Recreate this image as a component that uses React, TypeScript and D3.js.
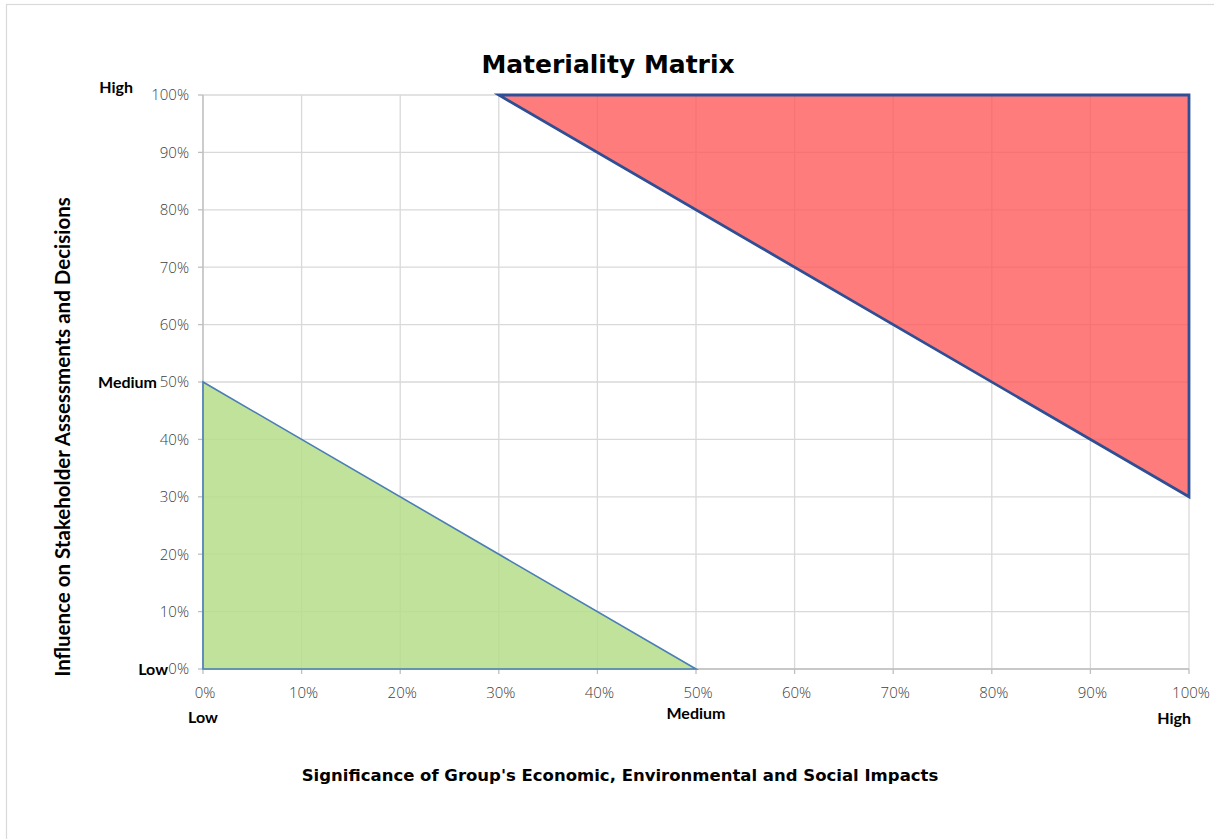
import React from "react";
import * as d3 from "d3";

const xTicks = [0, 0.1, 0.2, 0.3, 0.4, 0.5, 0.6, 0.7, 0.8, 0.9, 1.0];
const yTicks = [0, 0.1, 0.2, 0.3, 0.4, 0.5, 0.6, 0.7, 0.8, 0.9, 1.0];

// High-materiality zone (red) vertices [x, y]
const highZone: [number, number][] = [
  [0.3, 1.0],
  [1.0, 1.0],
  [1.0, 0.3],
];
// Low-materiality zone (green) vertices [x, y]
const lowZone: [number, number][] = [
  [0, 0],
  [0, 0.5],
  [0.5, 0],
];

const xLevelLabels = ["Low", "Medium", "High"];
const yLevelLabels = ["Low", "Medium", "High"];

const title = "Materiality Matrix";
const xTitle = "Significance of Group's Economic, Environmental and Social Impacts";
const yTitle = "Influence on Stakeholder Assessments and Decisions";

export default function App() {
  const W = 1214;
  const H = 839;
  const x = d3.scaleLinear().domain([0, 1]).range([203, 1189]);
  const y = d3.scaleLinear().domain([0, 1]).range([669, 95]);
  const fmt = d3.format(".0%");
  const line = d3
    .line<[number, number]>()
    .x((d) => x(d[0]))
    .y((d) => y(d[1]))
    .curve(d3.curveLinearClosed);

  const tickFont = "'Open Sans', Lato, sans-serif";
  const boldFont = "Lato, 'Open Sans', sans-serif";
  const titleFont = "'DejaVu Sans', Lato, sans-serif";
  const lvl = { fontFamily: boldFont, fontWeight: 700, fontSize: 16, fill: "#000" } as const;

  return (
    <svg
      width={W}
      height={H}
      style={{ position: "absolute", left: 0, top: 0, background: "#fff" }}
    >
      <rect x={6.5} y={4.5} width={1214} height={900} fill="#fff" stroke="#d9d9d9" strokeWidth={1.2} />
      {/* gridlines */}
      {xTicks.map((t) => (
        <line key={"gx" + t} x1={x(t)} x2={x(t)} y1={y(0)} y2={y(1)} stroke="#d9d9d9" strokeWidth={1.3} />
      ))}
      {yTicks.map((t) => (
        <line key={"gy" + t} x1={x(0)} x2={x(1)} y1={y(t)} y2={y(t)} stroke="#d9d9d9" strokeWidth={1.3} />
      ))}
      {/* axis lines and tick marks */}
      <line x1={x(0)} x2={x(1)} y1={y(0)} y2={y(0)} stroke="#bfbfbf" strokeWidth={1.3} />
      <line x1={x(0)} x2={x(0)} y1={y(0)} y2={y(1)} stroke="#bfbfbf" strokeWidth={1.3} />
      {xTicks.map((t) => (
        <line key={"tx" + t} x1={x(t)} x2={x(t)} y1={y(0)} y2={y(0) + 5} stroke="#bfbfbf" strokeWidth={1.3} />
      ))}
      {yTicks.map((t) => (
        <line key={"ty" + t} x1={x(0) - 5} x2={x(0)} y1={y(t)} y2={y(t)} stroke="#bfbfbf" strokeWidth={1.3} />
      ))}
      {/* zones */}
      <path d={line(lowZone) || ""} fill="#b5dd88" fillOpacity={0.85} stroke="#4a7eb5" strokeWidth={1.6} />
      <path d={line(highZone) || ""} fill="#ff5757" fillOpacity={0.78} stroke="#2e4f95" strokeWidth={2.8} />
      {/* tick labels */}
      {yTicks.map((t) => (
        <text
          key={"ly" + t}
          x={x(0) - 14}
          y={y(t)}
          dy="0.36em"
          textAnchor="end"
          fontFamily={tickFont}
          fontWeight={300}
          fontSize={15}
          fill="#404040"
        >
          {fmt(t)}
        </text>
      ))}
      {xTicks.map((t) => (
        <text
          key={"lx" + t}
          x={x(t) + 2}
          y={698}
          textAnchor="middle"
          fontFamily={tickFont}
          fontWeight={300}
          fontSize={15}
          fill="#404040"
        >
          {fmt(t)}
        </text>
      ))}
      {/* level labels */}
      <text x={203} y={723} textAnchor="middle" {...lvl}>
        {xLevelLabels[0]}
      </text>
      <text x={x(0.5)} y={719} textAnchor="middle" {...lvl}>
        {xLevelLabels[1]}
      </text>
      <text x={1191} y={724} textAnchor="end" {...lvl}>
        {xLevelLabels[2]}
      </text>
      <text x={168} y={y(0)} dy="0.4em" textAnchor="end" {...lvl}>
        {yLevelLabels[0]}
      </text>
      <text x={157} y={y(0.5)} dy="0.36em" textAnchor="end" {...lvl}>
        {yLevelLabels[1]}
      </text>
      <text x={133} y={93} textAnchor="end" {...lvl}>
        {yLevelLabels[2]}
      </text>
      {/* titles */}
      <text x={608} y={73} textAnchor="middle" fontFamily={titleFont} fontWeight={700} fontSize={25} fill="#000">
        {title}
      </text>
      <text x={620} y={781} textAnchor="middle" fontFamily={titleFont} fontWeight={700} fontSize={16.5} fill="#000">
        {xTitle}
      </text>
      <text
        transform={`translate(70, 437) rotate(-90)`}
        textAnchor="middle"
        fontFamily={boldFont}
        fontWeight={700}
        fontSize={20.5}
        fill="#000"
      >
        {yTitle}
      </text>
    </svg>
  );
}
